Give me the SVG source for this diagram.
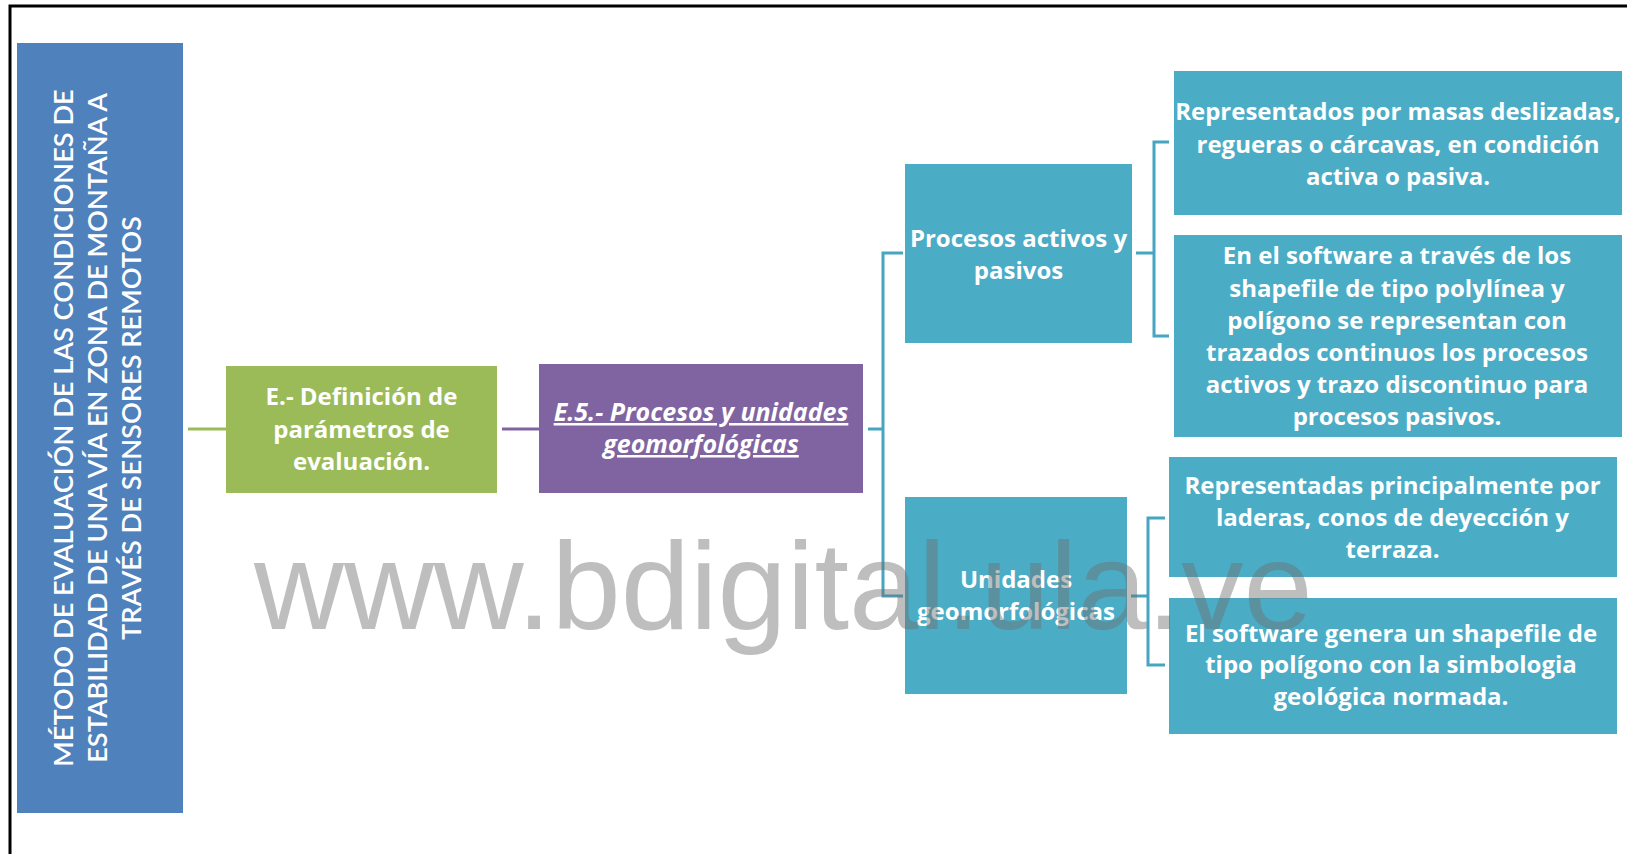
<svg xmlns="http://www.w3.org/2000/svg" width="1627" height="854" viewBox="0 0 1627 854">
  <style>
    .frame { fill: none; stroke: #000; stroke-width: 3; }
    .lbl { font-family: "Open Sans", Lato, "Liberation Sans", sans-serif; font-weight: 700; font-size: 24px; fill: #fff; text-anchor: middle; }
    .title { font-family: Lato, "Open Sans", "Liberation Sans", sans-serif; font-weight: 600; font-size: 27.2px; fill: #fff; text-anchor: middle; }
    .em { font-style: italic; text-decoration: underline; }
    .link { fill: none; stroke-width: 3; }
    .teal { fill: #4BACC6; }
    .mark { font-family: "Liberation Sans", Arial, sans-serif; font-size: 124.5px; fill: #6e6e6e; fill-opacity: 0.45; }
  </style>

  <rect width="1627" height="854" fill="#fff"/>
  <!-- page frame (open on the right and bottom) -->
  <path class="frame" d="M10,854 V6 H1627"/>

  <!-- connectors -->
  <g id="connectors" class="link">
    <line x1="188" y1="429" x2="226" y2="429" stroke="#9BBB59"/>
    <line x1="502" y1="429" x2="539" y2="429" stroke="#8064A2"/>
    <path d="M868,429 H883 M903,253 H883 V596 H903" stroke="#46A5C0"/>
    <path d="M1136,253 H1154 M1169,142 H1154 V336 H1169" stroke="#46A5C0"/>
    <path d="M1131,596 H1148 M1165,518 H1148 V665 H1165" stroke="#46A5C0"/>
  </g>

  <g id="root">
    <rect x="17" y="43" width="166" height="770" fill="#4F81BD"/>
    <text class="title" transform="translate(73,428) rotate(-90)">MÉTODO DE EVALUACIÓN DE LAS CONDICIONES DE</text>
    <text class="title" transform="translate(107,428) rotate(-90)">ESTABILIDAD DE UNA VÍA EN ZONA DE MONTAÑA A</text>
    <text class="title" transform="translate(141,428) rotate(-90)">TRAVÉS DE SENSORES REMOTOS</text>
  </g>

  <g id="n-definicion">
    <rect x="226" y="366" width="271" height="127" fill="#9BBB59"/>
    <text class="lbl"><tspan x="361.5" y="405">E.- Definición de</tspan><tspan x="361.5" y="437.5">parámetros de</tspan><tspan x="361.5" y="470">evaluación.</tspan></text>
  </g>

  <g id="n-e5">
    <rect x="539" y="364" width="324" height="129" fill="#8064A2"/>
    <text class="lbl em" style="font-size:25px"><tspan x="701" y="421">E.5.- Procesos  y unidades</tspan><tspan x="701" y="453">geomorfológicas</tspan></text>
  </g>

  <g id="n-procesos">
    <rect class="teal" x="905" y="164" width="227" height="179"/>
    <text class="lbl"><tspan x="1018.5" y="247">Procesos activos y</tspan><tspan x="1018.5" y="279">pasivos</tspan></text>
  </g>

  <g id="n-unidades">
    <rect class="teal" x="905" y="497" width="222" height="197"/>
    <text class="lbl"><tspan x="1016" y="588">Unidades</tspan><tspan x="1016" y="620">geomorfológicas</tspan></text>
  </g>

  <g id="n-representados">
    <rect class="teal" x="1174" y="71" width="448" height="144"/>
    <text class="lbl"><tspan x="1398" y="120">Representados por masas deslizadas,</tspan><tspan x="1398" y="153">regueras o cárcavas, en condición</tspan><tspan x="1398" y="185">activa o pasiva.</tspan></text>
  </g>

  <g id="n-software-procesos">
    <rect class="teal" x="1174" y="235" width="448" height="202"/>
    <text class="lbl"><tspan x="1397" y="264">En el software a través de  los</tspan><tspan x="1397" y="296.5">shapefile de tipo polylínea y</tspan><tspan x="1397" y="328.5">polígono se representan con</tspan><tspan x="1397" y="361">trazados  continuos los procesos</tspan><tspan x="1397" y="393">activos y  trazo discontinuo para</tspan><tspan x="1397" y="425">procesos pasivos.</tspan></text>
  </g>

  <g id="n-representadas">
    <rect class="teal" x="1169" y="457" width="448" height="120"/>
    <text class="lbl"><tspan x="1392.5" y="494">Representadas principalmente por</tspan><tspan x="1392.5" y="526">laderas, conos de deyección y</tspan><tspan x="1392.5" y="558">terraza.</tspan></text>
  </g>

  <g id="n-software-unidades">
    <rect class="teal" x="1169" y="598" width="448" height="136"/>
    <text class="lbl"><tspan x="1391" y="642">El software genera un shapefile de</tspan><tspan x="1391" y="673">tipo polígono con la simbologia</tspan><tspan x="1391" y="705">geológica normada.</tspan></text>
  </g>

  <text class="mark" x="254" y="629" xml:space="preserve">www.bdigital.ula.ve</text>
</svg>
